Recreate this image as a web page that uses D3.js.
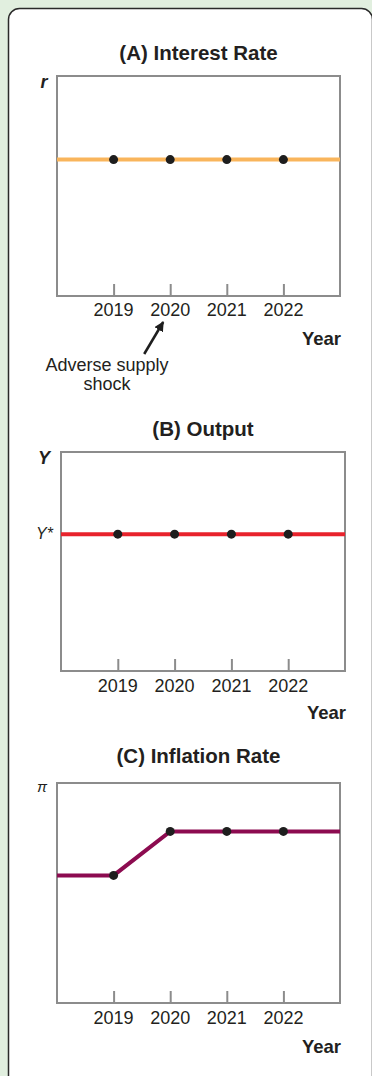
<!DOCTYPE html>
<html lang="en">
<head>
<meta charset="UTF-8">
<title>Adverse Supply Shock</title>
<script src="https://d3js.org/d3.v7.min.js"></script>
<style>
  body { margin: 0; background: #e1efdf; }
  svg { display: block; font-family: "Liberation Sans", Arial, sans-serif; }
</style>
</head>
<body>
<svg id="chart" width="372" height="1076"></svg>
<script>
const years = [2019, 2020, 2021, 2022];
const interestRate = [6.2, 6.2, 6.2, 6.2];
const output = [6.25, 6.25, 6.25, 6.25];
const inflation = [5.8, 7.8, 7.8, 7.8];
// line runs past the dots to both box edges
const edgeYears = [2018, 2023];
const rateEdge = [6.2, 6.2];
const outputEdge = [6.25, 6.25];
const inflationEdge = [5.8, 7.8];

const svg = d3.select("#chart");

// white card
svg.append("rect")
  .attr("x", 8.5).attr("y", 8.5)
  .attr("width", 364).attr("height", 1100)
  .attr("rx", 11)
  .attr("fill", "#fff")
  .attr("stroke", "#2a2a2a")
  .attr("stroke-width", 1.5);

const panels = [
  { title: "(A) Interest Rate", titleY: 60, left: 57, right: 340, top: 76, bottom: 296,
    vals: interestRate, edge: rateEdge, color: "#f9b55c",
    yLabel: "r", tickY: 316, yearY: 345 },
  { title: "(B) Output", titleY: 436, left: 61, right: 345, top: 452, bottom: 671,
    vals: output, edge: outputEdge, color: "#e8232c",
    yLabel: "Y", tickY: 692, yearY: 719 },
  { title: "(C) Inflation Rate", titleY: 763, left: 57, right: 340, top: 783, bottom: 1003,
    vals: inflation, edge: inflationEdge, color: "#8c0b50",
    yLabel: "π", tickY: 1024, yearY: 1053 }
];

panels.forEach(p => {
  const x = d3.scaleLinear().domain([2018, 2023]).range([p.left, p.right]);
  const y = d3.scaleLinear().domain([0, 10]).range([p.bottom, p.top]);
  const g = svg.append("g");

  g.append("text")
    .attr("x", (p.left + p.right) / 2)
    .attr("y", p.titleY)
    .attr("text-anchor", "middle")
    .attr("font-size", 20.5)
    .attr("font-weight", "bold")
    .attr("fill", "#231f20")
    .text(p.title);

  g.append("rect")
    .attr("x", p.left).attr("y", p.top)
    .attr("width", p.right - p.left).attr("height", p.bottom - p.top)
    .attr("fill", "none")
    .attr("stroke", "#8c8c8c")
    .attr("stroke-width", 2);

  const xAxis = d3.axisTop(x).tickValues(years).tickSize(12).tickFormat("");
  const ax = g.append("g").attr("transform", `translate(0,${p.bottom})`).call(xAxis);
  ax.select(".domain").remove();
  ax.selectAll("line").attr("stroke", "#8c8c8c").attr("stroke-width", 2);

  g.selectAll(".tick-label")
    .data(years)
    .enter().append("text")
    .attr("x", d => x(d))
    .attr("y", p.tickY)
    .attr("text-anchor", "middle")
    .attr("font-size", 18)
    .attr("fill", "#231f20")
    .text(d => d);

  g.append("text")
    .attr("x", p.right + 1)
    .attr("y", p.yearY)
    .attr("text-anchor", "end")
    .attr("font-size", 18.5)
    .attr("font-weight", "bold")
    .attr("fill", "#231f20")
    .text("Year");

  const pts = [[edgeYears[0], p.edge[0]]]
    .concat(years.map((d, i) => [d, p.vals[i]]))
    .concat([[edgeYears[1], p.edge[1]]]);
  const line = d3.line().x(d => x(d[0])).y(d => y(d[1]));
  g.append("path")
    .datum(pts)
    .attr("d", line)
    .attr("fill", "none")
    .attr("stroke", p.color)
    .attr("stroke-width", 4);

  g.selectAll(".dot")
    .data(years)
    .enter().append("circle")
    .attr("cx", d => x(d))
    .attr("cy", (d, i) => y(p.vals[i]))
    .attr("r", 4.5)
    .attr("fill", "#1e1e1e");

  const isPi = p.yLabel === "π";
  g.append("text")
    .attr("x", isPi ? 42 : 44)
    .attr("y", p.top + (isPi ? 9 : 12))
    .attr("text-anchor", "middle")
    .attr("font-size", isPi ? 15 : 18)
    .attr("font-weight", isPi ? "normal" : "bold")
    .attr("font-style", "italic")
    .attr("fill", "#231f20")
    .text(p.yLabel);

  p.x = x; p.y = y;
});

// Y* label on panel B
svg.append("text")
  .attr("x", 53)
  .attr("y", panels[1].y(output[0]) + 5)
  .attr("text-anchor", "end")
  .attr("font-size", 16)
  .attr("font-style", "italic")
  .attr("fill", "#231f20")
  .text("Y*");

// annotation arrow
const pa = panels[0];
const ax0 = pa.x(2020);
svg.append("defs").append("marker")
  .attr("id", "head")
  .attr("viewBox", "0 0 10 10")
  .attr("refX", 9).attr("refY", 5)
  .attr("markerWidth", 4).attr("markerHeight", 4)
  .attr("orient", "auto")
  .append("path").attr("d", "M0,0 L10,5 L0,10 z").attr("fill", "#1e1e1e");

svg.append("line")
  .attr("x1", ax0 - 26).attr("y1", 354)
  .attr("x2", ax0 - 7).attr("y2", 322)
  .attr("stroke", "#1e1e1e")
  .attr("stroke-width", 2.5)
  .attr("marker-end", "url(#head)");

const note = svg.append("text")
  .attr("text-anchor", "middle")
  .attr("font-size", 18)
  .attr("fill", "#231f20");
note.append("tspan").attr("x", 107).attr("y", 371).text("Adverse supply");
note.append("tspan").attr("x", 107).attr("y", 390).text("shock");
</script>
</body>
</html>
